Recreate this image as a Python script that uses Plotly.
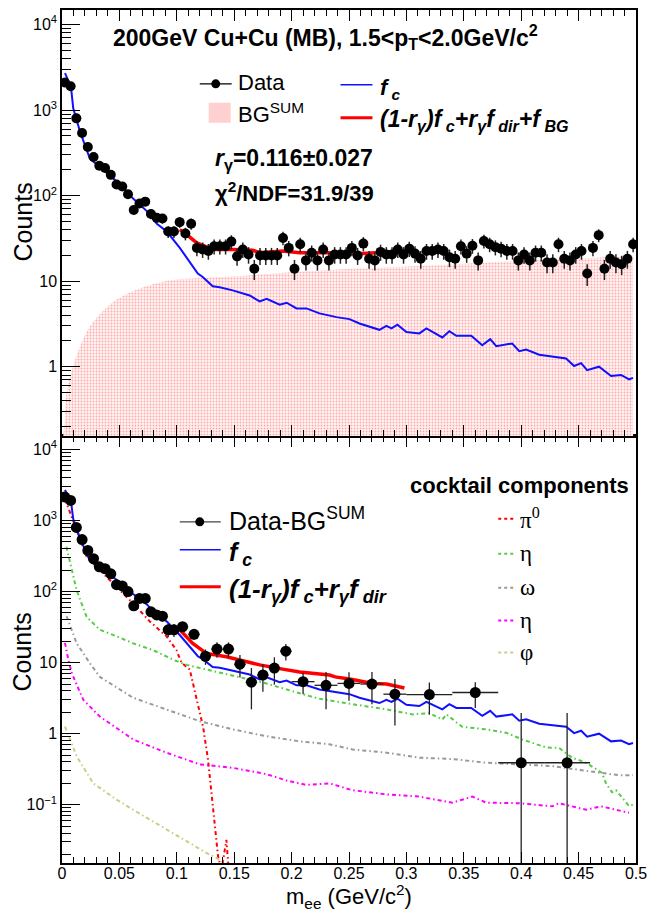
import plotly.graph_objects as go

# ---------------- data ----------------
# top panel: raw data in 5 MeV bins
top_mass = [round(0.0025 + 0.005 * i, 4) for i in range(100)]
top_counts = [2100, 1900, 800, 540, 370, 283, 224, 210, 175, 135, 128, 104,
              68, 81, 85, 61, 55, 54, 38, 38, 49, 36, 47,
              24.5, 23.5, 22.5, 25.6, 25.6, 25.6, 29, 19.5, 23.5, 20.5, 14, 20, 20, 20, 20, 32, 24.5, 14, 27, 17.5, 21.5,
              17.5, 23.5, 17.5, 20.5, 20.5, 20.5, 24.5, 20, 27.5, 18.3, 17.5, 22, 20.5, 20.5, 23.5, 20.5, 24, 21,
              18.3, 22.5, 22.5, 23.5, 22.5, 19, 18.3, 25.6, 21, 26, 17.5, 29.5, 27, 25, 24, 22.5, 22.5, 17.5,
              20.5, 17.5, 21.5, 21.5, 16.5, 16.5, 27, 18.3, 17.5, 20.5, 22.5, 12.3, 24.5, 34.5, 14, 18.3, 16.5,
              15.8, 18.3, 27]
top_err = [46, 44, 28, 23, 19, 17, 15, 14, 13, 12, 11, 10,
           8, 9, 9, 8, 7, 7, 6, 6, 7, 6, 7,
           5, 4.8, 4.7, 5.1, 5.1, 5.1, 5.4, 4.4, 4.8, 4.5, 3.7, 4.5, 4.5, 4.5, 4.5, 5.7, 5, 3.7, 5.2, 4.2, 4.6,
           4.2, 4.8, 4.2, 4.5, 4.5, 4.5, 5, 4.5, 5.2, 4.3, 4.2, 4.7, 4.5, 4.5, 4.8, 4.5, 4.9, 4.6, 4.3, 4.7,
           4.7, 4.8, 4.7, 4.4, 4.3, 5.1, 4.6, 5.1, 4.2, 5.4, 5.2, 5, 4.9, 4.7, 4.7, 4.2, 4.5, 4.2, 4.6, 4.6,
           4.1, 4.1, 5.2, 4.3, 4.2, 4.5, 4.7, 3.5, 4.9, 5.9, 3.7, 4.3, 4.1, 4, 4.3, 5.2]

# BG^SUM
bg_mass = [0.001, 0.0023, 0.0038, 0.0096, 0.0197, 0.0299, 0.0429, 0.0545, 0.069,
           0.0835, 0.1009, 0.127, 0.150, 0.19, 0.233, 0.3, 0.35, 0.4, 0.45, 0.4975]
bg_vals = [0.155, 0.22, 0.48, 1.0, 2.3, 3.7, 5.5, 6.9, 8.3,
           9.5, 10.5, 11.0, 11.4, 12.5, 13.5, 14.8, 16.0, 17.3, 18.4, 19.5]

# f_c (cocktail sum), same curve in both panels
fc_mass = [0.0026, 0.0078, 0.0098, 0.0157, 0.0243, 0.0304, 0.050, 0.0617, 0.0739, 0.0826, 0.0913,
           0.1026, 0.1113, 0.1183, 0.1226, 0.1313, 0.1374, 0.1487, 0.1635, 0.1722, 0.1783, 0.1896,
           0.1957, 0.2043, 0.213, 0.2243, 0.2391, 0.2504, 0.2591, 0.2765, 0.2826, 0.2870, 0.2922,
           0.3, 0.3113, 0.3174, 0.3313, 0.3374, 0.3435, 0.3565, 0.3661, 0.3730, 0.3783, 0.3922,
           0.3983, 0.4043, 0.4157, 0.4270, 0.4391, 0.4461, 0.4522, 0.4574, 0.4678, 0.4783, 0.4870,
           0.4939, 0.4974]
fc_vals = [2700, 1870, 1050, 560, 270, 230, 138, 93, 66, 47, 38,
           24.5, 17, 12.3, 11.2, 8.7, 8.5, 7.8, 6.8, 5.8, 6.2, 5.3,
           5.6, 4.8, 4.8, 4.2, 3.8, 3.6, 3.2, 2.7, 3.0, 2.8, 3.1,
           2.55, 2.45, 2.8, 2.2, 2.6, 2.3, 2.3, 1.78, 2.1, 1.74, 1.87,
           1.52, 1.59, 1.38, 1.32, 1.25, 1.02, 1.1, 0.91, 1.0, 0.78, 0.80,
           0.71, 0.74]

# fit (1-r)fc + r fdir + fBG  (top)
fit_top_mass = [0.1026, 0.1087, 0.1174, 0.1313, 0.1487, 0.1661, 0.1722, 0.1922, 0.2070, 0.2330,
                0.2391, 0.2617, 0.2765, 0.3]
fit_top_vals = [40, 35, 28, 23.5, 23.5, 23, 21.5, 22.5, 21.5, 21.5, 21.5, 21, 21.5, 22.5]

# bottom panel: Data - BG^SUM, variable bins
bot_mass = [round(0.0025 + 0.005 * i, 4) for i in range(20)] + \
           [0.105, 0.115, 0.125, 0.135, 0.145, 0.155, 0.165, 0.175, 0.185, 0.195] + \
           [0.21, 0.23, 0.25, 0.27, 0.29] + [0.32, 0.36, 0.40, 0.44]
bot_halfwidth = [0.0025] * 20 + [0.005] * 10 + [0.01] * 5 + [0.02] * 4
bot_counts = [2140, 1920, 800, 540, 380, 290, 223, 210, 178, 125, 120, 100, 63, 80, 80, 52, 47, 45, 29, 29,
              32, 25, 12.3, 15.5, 15.5, 9.5, 5.3, 6.7, 8.4, 14.5,
              5.4, 4.8, 5.1, 5.0, 3.6, 3.55, 3.8, 0.39, 0.39]
bot_err_up = [46, 44, 28, 23, 20, 17, 15, 15, 13, 11, 11, 10, 8, 9, 9, 7.5, 7, 7, 6, 6,
              4.5, 4, 3, 3.8, 3.8, 3.3, 3.1, 2.8, 3.5, 3.8,
              1.8, 2.6, 2.2, 2.4, 2.3, 1.7, 1.5, 1.56, 1.56]
bot_err_dn = [46, 44, 28, 23, 20, 17, 15, 15, 13, 11, 11, 10, 8, 9, 9, 7.5, 7, 7, 6, 6,
              4.5, 4, 3, 3.8, 3.8, 3.3, 3.1, 2.8, 3.5, 3.8,
              1.8, 2.6, 2.2, 2.4, 2.3, 1.7, 1.5, 0.385, 0.385]

# fit (1-r)fc + r fdir  (bottom)
fit_bot_mass = [0.1026, 0.1139, 0.1258, 0.1432, 0.1663, 0.1722, 0.1922, 0.2070, 0.2243, 0.2330,
                0.2380, 0.2530, 0.2704, 0.2826, 0.2983]
fit_bot_vals = [29, 18.6, 13.5, 12.1, 9.8, 9.3, 8.1, 7.4, 6.9, 6.7, 6.3, 5.8, 5.1, 5.0, 4.4]

# cocktail components
pi0_mass = [0.0026, 0.0128, 0.0215, 0.0330, 0.0475, 0.0620, 0.0765, 0.0910, 0.0997, 0.1041, 0.1113,
            0.1171, 0.1229, 0.1272, 0.1316, 0.1359, 0.1390, 0.1432, 0.1470]
pi0_vals = [2000, 730, 310, 200, 117, 68, 38, 23.5, 15, 10, 8,
            3.3, 1.25, 0.43, 0.095, 0.019, 0.012, 0.032, 0.005]
eta_mass = [0.0038, 0.0084, 0.0128, 0.0215, 0.0330, 0.0475, 0.0620, 0.0794, 0.0968, 0.1084, 0.1258,
            0.1490, 0.1780, 0.2070, 0.2243, 0.2530, 0.2826, 0.3052, 0.3200, 0.3313, 0.3348, 0.3487,
            0.3696, 0.3870, 0.4009, 0.4217, 0.4330, 0.4443, 0.4565, 0.4704, 0.4739, 0.4791, 0.4826,
            0.4939, 0.4974]
eta_vals = [427, 200, 104, 44, 29, 23.5, 18.7, 15, 11, 9.3, 8,
            6.7, 5.1, 3.7, 3.1, 2.6, 2.2, 1.87, 1.95, 1.58, 1.87, 1.25,
            1.15, 1.03, 0.83, 0.64, 0.63, 0.46, 0.39, 0.28, 0.20, 0.15, 0.16,
            0.096, 0.1]
omega_mass = [0.004, 0.0128, 0.0243, 0.0330, 0.0620, 0.0910, 0.1200, 0.1490, 0.1780, 0.2070, 0.2330,
              0.2530, 0.2826, 0.3113, 0.3400, 0.3696, 0.3983, 0.4270, 0.4565, 0.4852, 0.4974]
omega_vals = [45, 18.7, 9.8, 6.3, 3.2, 2.2, 1.5, 1.15, 0.92, 0.78, 0.71,
              0.6, 0.54, 0.46, 0.44, 0.39, 0.37, 0.35, 0.30, 0.26, 0.26]
etap_mass = [0.0026, 0.0055, 0.0087, 0.0185, 0.0330, 0.0620, 0.0910, 0.1200, 0.1490, 0.1780, 0.1954,
             0.2128, 0.2330, 0.2530, 0.2826, 0.3113, 0.3400, 0.3574, 0.3696, 0.3983, 0.4270, 0.4330,
             0.4565, 0.4696, 0.4939]
etap_vals = [19, 11, 7, 3.0, 1.74, 0.83, 0.54, 0.37, 0.33, 0.27, 0.22,
             0.19, 0.2, 0.16, 0.14, 0.13, 0.107, 0.13, 0.107, 0.105, 0.095, 0.105,
             0.085, 0.095, 0.077]
phi_mass = [0.0026, 0.0128, 0.0272, 0.0475, 0.0620, 0.0910, 0.1084, 0.1258, 0.1432, 0.155]
phi_vals = [1.26, 0.48, 0.2, 0.118, 0.085, 0.045, 0.031, 0.021, 0.015, 0.011]

x_tickvals = [0, 0.05, 0.1, 0.15, 0.2, 0.25, 0.3, 0.35, 0.4, 0.45, 0.5]
x_ticktext = ["0", "0.05", "0.1", "0.15", "0.2", "0.25", "0.3", "0.35", "0.4", "0.45", "0.5"]
y_tickvals_top = [1, 10, 100, 1000, 10000]
y_ticktext_top = ["1", "10", "10<sup>2</sup>", "10<sup>3</sup>", "10<sup>4</sup>"]
y_tickvals_bot = [0.1, 1, 10, 100, 1000, 10000]
y_ticktext_bot = ["10<sup>\u22121</sup>", "1", "10", "10<sup>2</sup>", "10<sup>3</sup>", "10<sup>4</sup>"]

# ---------------- styling ----------------
FONT = "Liberation Sans, Arial, sans-serif"
SERIF = "Liberation Serif, DejaVu Serif, serif"
BLUE = "#1010ff"
RED = "#ff0000"
COCK_DASH = "4px,3px,1.5px,3px"

fig = go.Figure()

# ---- top panel ----
fig.add_trace(go.Scatter(
    x=bg_mass, y=bg_vals, xaxis="x2", yaxis="y2", mode="lines", fill="tozeroy",
    line=dict(width=0, color="rgba(255,0,0,0)", shape="spline"),
    fillpattern=dict(shape=".", fgcolor="rgba(255,60,60,0.8)", bgcolor="rgba(255,243,243,1)",
                     size=3, solidity=0.3),
    showlegend=False, hoverinfo="skip"))
fig.add_trace(go.Scatter(x=fc_mass, y=fc_vals, xaxis="x2", yaxis="y2", mode="lines",
                         line=dict(color=BLUE, width=2), showlegend=False))
fig.add_trace(go.Scatter(x=fit_top_mass, y=fit_top_vals, xaxis="x2", yaxis="y2", mode="lines",
                         line=dict(color=RED, width=3.5), showlegend=False))
fig.add_trace(go.Scatter(
    x=top_mass, y=top_counts, xaxis="x2", yaxis="y2", mode="markers",
    marker=dict(color="black", size=10),
    error_y=dict(type="data", array=top_err, color="#222222", thickness=1.5, width=0),
    showlegend=False))

# ---- bottom panel ----
cocktail = [
    (pi0_mass, pi0_vals, "#ff0000"),
    (eta_mass, eta_vals, "#55cc44"),
    (omega_mass, omega_vals, "#999999"),
    (etap_mass, etap_vals, "#ff00ff"),
    (phi_mass, phi_vals, "#cccc88"),
]
for mx, my, col in cocktail:
    fig.add_trace(go.Scatter(x=mx, y=my, xaxis="x", yaxis="y", mode="lines",
                             line=dict(color=col, width=2, dash=COCK_DASH), showlegend=False))
fig.add_trace(go.Scatter(x=fc_mass, y=fc_vals, xaxis="x", yaxis="y", mode="lines",
                         line=dict(color=BLUE, width=2), showlegend=False))
fig.add_trace(go.Scatter(x=fit_bot_mass, y=fit_bot_vals, xaxis="x", yaxis="y", mode="lines",
                         line=dict(color=RED, width=3.5), showlegend=False))
fig.add_trace(go.Scatter(
    x=bot_mass, y=bot_counts, xaxis="x", yaxis="y", mode="markers",
    marker=dict(color="black", size=11),
    error_y=dict(type="data", array=bot_err_up, arrayminus=bot_err_dn, color="#222222",
                 thickness=1.3, width=0),
    error_x=dict(type="data", array=bot_halfwidth, color="#222222", thickness=1.3, width=0),
    showlegend=False))

# ---------------- axes ----------------
minor_x = [round(0.01 * i, 2) for i in range(51) if i % 5 != 0]
minor_y = [m * 10 ** d for d in range(-2, 5) for m in range(2, 10)]

common_x = dict(range=[0, 0.5], tickvals=x_tickvals, ticktext=x_ticktext, ticks="inside",
                ticklen=11, tickwidth=1, tickcolor="black", showline=True, linecolor="black",
                linewidth=1.5, mirror="ticks", showgrid=False, zeroline=False,
                minor=dict(tickvals=minor_x, ticks="inside", ticklen=6, tickcolor="black", tickwidth=1))
common_y = dict(type="log", ticks="inside", ticklen=18, tickwidth=1, tickcolor="black",
                showline=True, linecolor="black", linewidth=1.5, mirror=True, showgrid=False,
                zeroline=False, tickfont=dict(family=FONT, size=16, color="black"),
                minor=dict(tickvals=minor_y, ticks="inside", ticklen=9, tickcolor="black", tickwidth=1))

split = 428 / 855
fig.update_layout(
    width=655, height=911,
    margin=dict(l=62, r=18, t=8, b=48),
    paper_bgcolor="white", plot_bgcolor="white",
    font=dict(family=FONT, color="black"),
    xaxis=dict(**common_x, anchor="y", domain=[0, 1], ticklabelstandoff=-5,
               tickfont=dict(family=FONT, size=16, color="black")),
    xaxis2=dict(**common_x, anchor="y2", domain=[0, 1], showticklabels=False, matches="x"),
    yaxis=dict(**common_y, domain=[0, split], range=[-1.82, 4.19],
               tickvals=y_tickvals_bot, ticktext=y_ticktext_bot, anchor="x"),
    yaxis2=dict(**common_y, domain=[split, 1], range=[-0.81, 4.17],
                tickvals=y_tickvals_top, ticktext=y_ticktext_top, anchor="x2"),
    showlegend=False,
)

# ---------------- texts & legend samples (pixel -> paper) ----------------
def px(x):
    return (x - 62) / 575


def py(y):
    return 1 - (y - 8) / 855


ann = []
shapes = []


def text(x, y, s, size, xanchor="left", family=FONT, angle=0):
    ann.append(dict(x=px(x), y=py(y), xref="paper", yref="paper", text=s, showarrow=False,
                    xanchor=xanchor, yanchor="middle", textangle=angle,
                    font=dict(family=family, size=size, color="black")))


def hline(x0, x1, y, color, width, dash="solid"):
    shapes.append(dict(type="line", xref="paper", yref="paper", x0=px(x0), x1=px(x1),
                       y0=py(y), y1=py(y), line=dict(color=color, width=width, dash=dash)))


def dot(x, y, r):
    shapes.append(dict(type="circle", xref="paper", yref="paper", x0=px(x - r), x1=px(x + r),
                       y0=py(y + r), y1=py(y - r), fillcolor="black", line=dict(width=0)))


# axis titles
text(22, 221, "Counts", 25, xanchor="center", angle=-90)
text(22, 652, "Counts", 25, xanchor="center", angle=-90)
text(350, 897, "m<sub>ee</sub> (GeV/c<sup>2</sup>)", 22, xanchor="center")

# top panel texts
text(326, 35, "<b>200GeV Cu+Cu (MB), 1.5&lt;p<sub>T</sub>&lt;2.0GeV/c<sup>2</sup></b>", 23, xanchor="center")
hline(200, 232, 82, "black", 1.2)
dot(216, 82, 4.5)
text(236, 81, "Data", 22)
shapes.append(dict(type="rect", xref="paper", yref="paper", x0=px(209), x1=px(231), y0=py(121),
                   y1=py(101), fillcolor="rgba(255,170,170,0.55)", line=dict(width=0)))
text(236, 111, "BG<sup>SUM</sup>", 22)
hline(341, 373, 83, BLUE, 1.5)
text(379, 87, "<b><i>f<sub> c</sub></i></b>", 22)
hline(341, 373, 116, RED, 3)
text(379, 119, "<b><i>(1-r<sub>γ</sub>)f<sub> c</sub>+r<sub>γ</sub>f<sub> dir</sub>+f<sub> BG</sub></i></b>", 23)
text(213, 158, "<b><i>r</i><sub>γ</sub>=0.116±0.027</b>", 23)
text(213, 190, "<b>χ<sup>2</sup>/NDF=31.9/39</b>", 22)

# bottom panel legend
hline(180, 221, 521, "#444444", 1.2)
dot(200, 521, 4.5)
text(227, 518, "Data-BG<sup>SUM</sup>", 25)
hline(180, 221, 549, BLUE, 1.5)
text(227, 553, "<b><i>f<sub> c</sub></i></b>", 25)
hline(180, 221, 586, RED, 3)
text(227, 590, "<b><i>(1-r<sub>γ</sub>)f<sub> c</sub>+r<sub>γ</sub>f<sub> dir</sub></i></b>", 26)

text(520, 485, "<b>cocktail components</b>", 22, xanchor="center")
legend_cocktail = [("π<sup>0</sup>", "#ff0000", 518), ("η", "#55cc44", 553), ("ω", "#999999", 587),
                   ("η", "#ff00ff", 620), ("φ", "#cccc88", 652)]
for lab, col, yy in legend_cocktail:
    hline(499, 516, yy, col, 2, "dot")
    text(519, yy, lab, 23, family=SERIF)

fig.update_layout(annotations=ann, shapes=shapes)
fig.write_html("out.html", config={"displayModeBar": False},
               post_script="document.body.style.margin='0';document.body.style.overflow='hidden';")
